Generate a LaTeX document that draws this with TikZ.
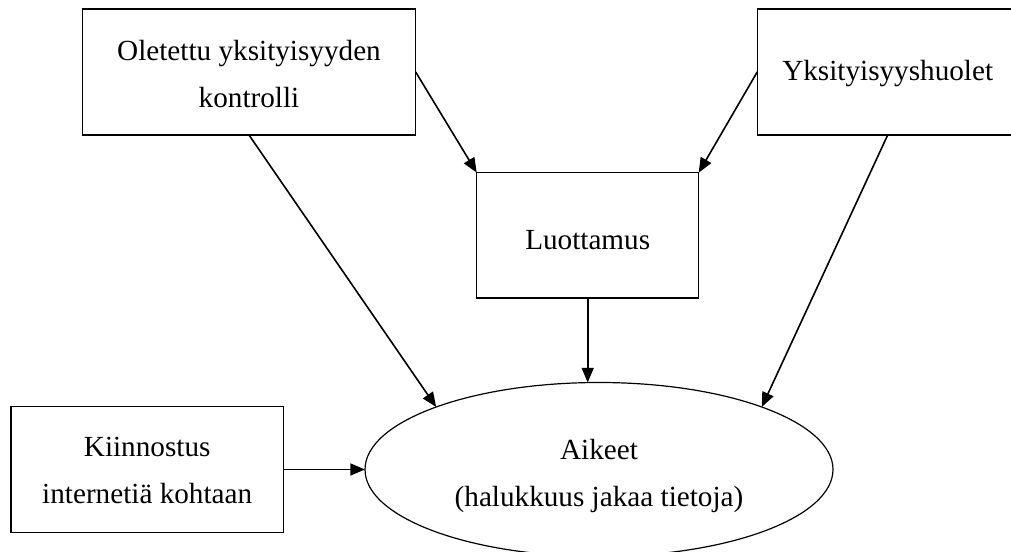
\documentclass[tikz,border=0pt]{standalone}
\usepackage{fontspec}
\setmainfont{Liberation Serif}
\usetikzlibrary{arrows.meta,shapes.geometric}
\begin{document}
\begin{tikzpicture}[x=0.75pt,y=-0.75pt,
  every node/.style={font=\fontsize{21.9}{35.25}\selectfont, align=center, inner sep=0pt, outer sep=0pt},
  box/.style={draw, line width=0.9pt, fill=white},
  oval/.style={draw, ellipse, line width=0.9pt, fill=white},
  txt/.style={yshift=-#1},
  arr/.style={-{Triangle[length=11pt,width=9pt]}, line width=1.2pt}]
  % page frame
  \fill[white] (0,0) rectangle (1011,552);
  \clip (0,0) rectangle (1011,552);

  % shapes
  \node[box, minimum width=250pt, minimum height=94.5pt] (ctrl) at (249,72) {};
  \node[box, minimum width=195.75pt, minimum height=94.5pt] (huol) at (887.7,72) {};
  \node[box, minimum width=166.5pt, minimum height=94pt] (luot) at (587.7,235.3) {};
  \node[box, minimum width=204.2pt, minimum height=94.2pt] (kiin) at (147.2,469.5) {};
  \node[oval, minimum width=351pt, minimum height=130.5pt] (aik) at (599,469.5) {};

  % texts
  \node[txt=1.5pt] (ctrlT) at (ctrl.center) {Oletettu yksityisyyden\\kontrolli};
  \node[txt=1.5pt] (huolT) at (huol.center) {Yksityisyyshuolet};
  \node[txt=3.5pt] (luotT) at (luot.center) {Luottamus};
  \node[txt=1pt] (kiinT) at (kiin.center) {Kiinnostus\\internetiä kohtaan};
  \node[txt=4.5pt] (aikT) at (aik.center) {Aikeet\\(halukkuus jakaa tietoja)};

  % connectors
  \draw[arr] (ctrl.east) -- (luot.north west);
  \draw[arr] (huol.west) -- (luot.north east);
  \draw[arr] (ctrl.south) -- (aik.159);
  \draw[arr] (huol.south) -- (aik.21);
  \draw[arr] (luot.south) -- (luot.south |- aik.north);
  \draw[arr] (kiin.east) -- (aik.west);
\end{tikzpicture}
\end{document}
